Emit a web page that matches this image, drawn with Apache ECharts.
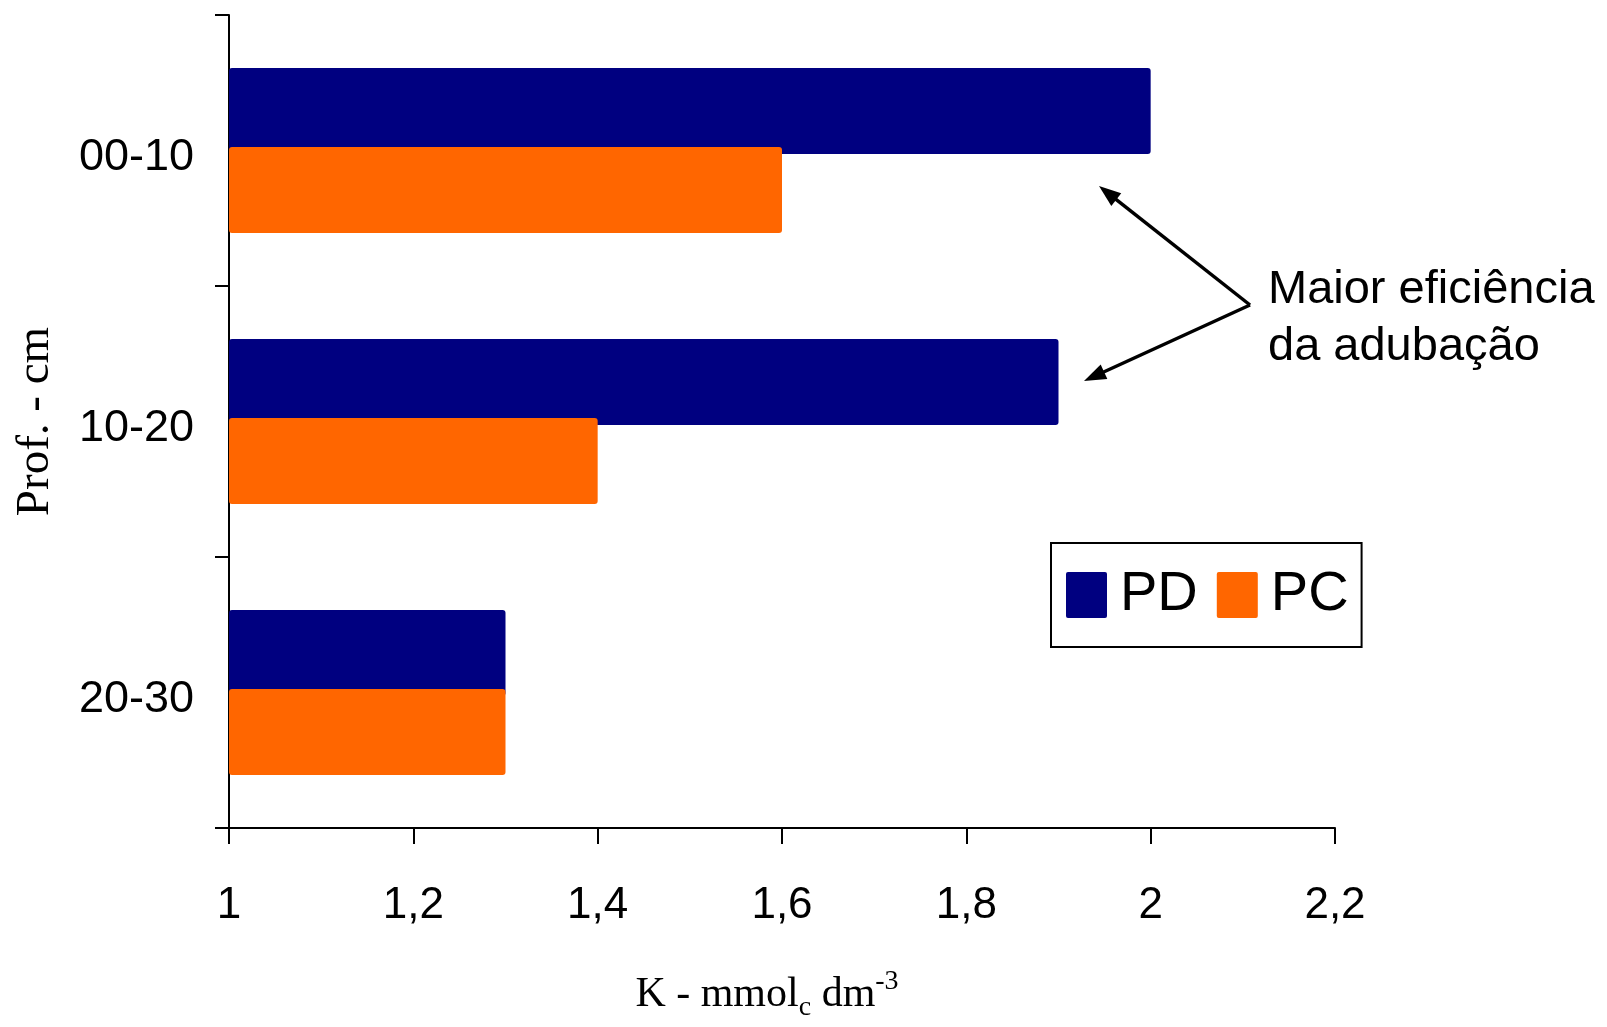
<!DOCTYPE html>
<html>
<head>
<meta charset="utf-8">
<script src="https://cdn.jsdelivr.net/npm/echarts@6/dist/echarts.min.js"></script>
<style>
  html, body { margin: 0; padding: 0; background: #fff; }
  #chart { width: 1607px; height: 1027px; }
</style>
</head>
<body>
<div id="chart"></div>
<script>
const categories = ['00-10', '10-20', '20-30'];
const seriesNames = ['PD', 'PC'];
const pdValues = [2.0, 1.9, 1.3];
const pcValues = [1.6, 1.4, 1.3];
const xTickLabels = ['1', '1,2', '1,4', '1,6', '1,8', '2', '2,2'];
const annotationLines = ['Maior eficiência', 'da adubação'];

const SANS = "'Liberation Sans', Arial, sans-serif";
const SERIF = "'Liberation Serif', 'Times New Roman', serif";

const chart = echarts.init(document.getElementById('chart'), null, { renderer: 'canvas' });

// annotation arrows (pixel positions of the callout)
const vertex = [1250, 305];
const tips = [[1099, 186], [1084, 381]];
const arrowGraphics = [];
tips.forEach(function (t) {
  const dx = t[0] - vertex[0], dy = t[1] - vertex[1];
  const len = Math.sqrt(dx * dx + dy * dy);
  const ux = dx / len, uy = dy / len;
  const hl = 22, hw = 8;
  const bx = t[0] - ux * hl, by = t[1] - uy * hl;
  const px = -uy, py = ux;
  arrowGraphics.push({
    type: 'line',
    shape: { x1: vertex[0], y1: vertex[1], x2: bx + ux * 4, y2: by + uy * 4 },
    style: { stroke: '#000', lineWidth: 3.5 }
  });
  arrowGraphics.push({
    type: 'polygon',
    shape: { points: [[t[0], t[1]], [bx + px * hw, by + py * hw], [bx - px * hw, by - py * hw]] },
    style: { fill: '#000' }
  });
});

const option = {
  backgroundColor: '#ffffff',
  animation: false,
  grid: { left: 229, right: 272, top: 15, bottom: 199, containLabel: false },
  legend: {
    data: seriesNames,
    left: 1051,
    top: 543,
    orient: 'horizontal',
    icon: 'path://M2,0 L39,0 Q41,0 41,2 L41,44 Q41,46 39,46 L2,46 Q0,46 0,44 L0,2 Q0,0 2,0 Z',
    itemWidth: 41,
    itemHeight: 46,
    itemGap: 19,
    padding: [24, 13, 24, 15],
    borderColor: '#000',
    borderWidth: 2,
    backgroundColor: '#fff',
    textStyle: { fontFamily: SANS, fontSize: 56, color: '#000', lineHeight: 46, padding: [0, 0, 0, 8] }
  },
  xAxis: {
    type: 'value',
    min: 1,
    max: 2.2,
    interval: 0.2,
    name: '{a|K - mmol}{sub|c}{a| dm}{sup|-3}',
    nameLocation: 'middle',
    nameGap: 140,
    nameTextStyle: {
      padding: [0, 30, 0, 0],
      rich: {
        a: { fontFamily: SERIF, fontSize: 42, color: '#000', lineHeight: 54, verticalAlign: 'middle' },
        sub: { fontFamily: SERIF, fontSize: 28, color: '#000', lineHeight: 54, verticalAlign: 'bottom' },
        sup: { fontFamily: SERIF, fontSize: 28, color: '#000', lineHeight: 54, verticalAlign: 'top' }
      }
    },
    axisLine: { show: true, lineStyle: { color: '#000', width: 2 } },
    axisTick: { show: true, length: 16, inside: false, lineStyle: { color: '#000', width: 2 } },
    splitLine: { show: false },
    axisLabel: {
      margin: 56,
      fontFamily: SANS,
      fontSize: 44,
      color: '#000',
      formatter: function (v, i) { return xTickLabels[i] !== undefined ? xTickLabels[i] : String(v).replace('.', ','); }
    }
  },
  yAxis: {
    type: 'category',
    data: categories,
    inverse: true,
    name: 'Prof. - cm',
    nameLocation: 'middle',
    nameRotate: 90,
    nameGap: 170,
    nameTextStyle: { fontFamily: SERIF, fontSize: 47, color: '#000' },
    axisLine: { show: true, lineStyle: { color: '#000', width: 2 } },
    axisTick: { show: true, length: 14, alignWithLabel: false, lineStyle: { color: '#000', width: 2 } },
    splitLine: { show: false },
    axisLabel: { margin: 35, fontFamily: SANS, fontSize: 45, color: '#000', verticalAlign: 'top', lineHeight: 14 }
  },
  series: [
    {
      name: seriesNames[0],
      type: 'bar',
      data: pdValues,
      barWidth: 86,
      barGap: '-8%',
      itemStyle: { color: '#000080', borderRadius: 3 }
    },
    {
      name: seriesNames[1],
      type: 'bar',
      data: pcValues,
      barWidth: 86,
      barGap: '-8%',
      itemStyle: { color: '#FF6600', borderRadius: 3 }
    }
  ],
  graphic: arrowGraphics.concat([
    {
      type: 'text',
      x: 1268, y: 290,
      style: { text: annotationLines[0], font: '47px ' + SANS, fill: '#000', verticalAlign: 'middle' }
    },
    {
      type: 'text',
      x: 1268, y: 347,
      style: { text: annotationLines[1], font: '47px ' + SANS, fill: '#000', verticalAlign: 'middle' }
    }
  ])
};

chart.setOption(option);
</script>
</body>
</html>
